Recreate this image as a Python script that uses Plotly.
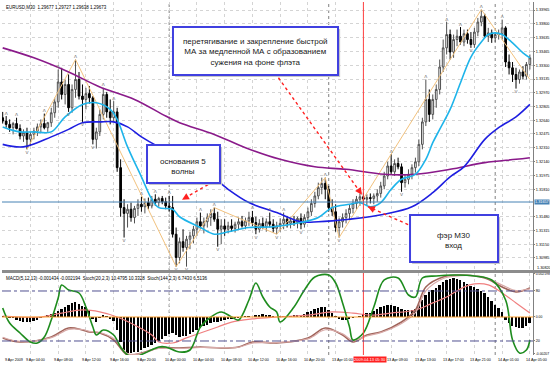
import plotly.graph_objects as go

# ---------------- data ----------------
bars = list(range(153))
open_ = [1.3267,1.3263,1.3259,1.3255,1.3260,1.3254,1.3245,1.3249,1.3241,1.3247,
 1.3251,1.3256,1.3260,1.3255,1.3261,1.3273,1.3286,1.3310,1.3295,1.3307,
 1.3279,1.3301,1.3313,1.3293,1.3289,1.3296,1.3291,1.3241,1.3250,1.3271,
 1.3295,1.3274,1.3267,1.3274,1.3207,1.3159,1.3152,1.3157,1.3147,1.3158,
 1.3163,1.3160,1.3165,1.3161,1.3169,1.3165,1.3170,1.3166,1.3161,1.3159,
 1.3127,1.3099,1.3118,1.3111,1.3121,1.3125,1.3133,1.3142,1.3137,1.3142,
 1.3147,1.3152,1.3145,1.3133,1.3137,1.3133,1.3137,1.3134,1.3139,1.3142,
 1.3137,1.3143,1.3147,1.3141,1.3133,1.3140,1.3136,1.3142,1.3139,1.3134,
 1.3137,1.3140,1.3145,1.3140,1.3143,1.3141,1.3146,1.3139,1.3147,1.3154,
 1.3164,1.3173,1.3183,1.3188,1.3181,1.3159,1.3154,1.3135,1.3142,1.3147,
 1.3152,1.3158,1.3164,1.3169,1.3172,1.3169,1.3171,1.3170,1.3173,1.3176,
 1.3185,1.3197,1.3209,1.3202,1.3212,1.3208,1.3189,1.3193,1.3199,1.3207,
 1.3214,1.3235,1.3262,1.3289,1.3271,1.3289,1.3301,1.3328,1.3351,1.3367,
 1.3346,1.3361,1.3365,1.3358,1.3368,1.3361,1.3355,1.3370,1.3382,1.3389,
 1.3365,1.3369,1.3363,1.3367,1.3368,1.3375,1.3334,1.3327,1.3319,1.3313,
 1.3322,1.3317,1.3331]
high = [1.3274,1.3269,1.3265,1.3262,1.3267,1.3259,1.3253,1.3255,1.3250,1.3255,
 1.3260,1.3265,1.3272,1.3262,1.3279,1.3291,1.3325,1.3327,1.3313,1.3319,
 1.3307,1.3337,1.3322,1.3307,1.3303,1.3305,1.3293,1.3255,1.3277,1.3303,
 1.3298,1.3289,1.3287,1.3279,1.3217,1.3169,1.3163,1.3165,1.3161,1.3169,
 1.3172,1.3170,1.3171,1.3173,1.3175,1.3172,1.3173,1.3171,1.3173,1.3173,
 1.3135,1.3123,1.3133,1.3125,1.3130,1.3137,1.3147,1.3153,1.3147,1.3152,
 1.3157,1.3159,1.3154,1.3145,1.3145,1.3142,1.3145,1.3142,1.3147,1.3149,
 1.3147,1.3154,1.3155,1.3148,1.3145,1.3147,1.3146,1.3153,1.3145,1.3142,
 1.3146,1.3153,1.3149,1.3147,1.3149,1.3148,1.3152,1.3151,1.3159,1.3169,
 1.3178,1.3189,1.3195,1.3195,1.3185,1.3169,1.3163,1.3147,1.3152,1.3157,
 1.3163,1.3169,1.3173,1.3176,1.3177,1.3175,1.3176,1.3176,1.3181,1.3190,
 1.3202,1.3214,1.3223,1.3217,1.3219,1.3212,1.3199,1.3205,1.3211,1.3219,
 1.3241,1.3267,1.3313,1.3301,1.3295,1.3307,1.3337,1.3361,1.3382,1.3373,
 1.3367,1.3373,1.3376,1.3373,1.3373,1.3370,1.3375,1.3387,1.3397,1.3392,
 1.3375,1.3373,1.3370,1.3373,1.3385,1.3377,1.3343,1.3334,1.3327,1.3325,
 1.3329,1.3334,1.3343]
low = [1.3260,1.3255,1.3250,1.3247,1.3253,1.3241,1.3238,1.3229,1.3233,1.3241,
 1.3245,1.3249,1.3253,1.3250,1.3256,1.3267,1.3279,1.3289,1.3283,1.3274,
 1.3273,1.3291,1.3289,1.3262,1.3277,1.3284,1.3235,1.3230,1.3245,1.3265,
 1.3267,1.3259,1.3262,1.3202,1.3148,1.3123,1.3135,1.3142,1.3140,1.3149,
 1.3154,1.3152,1.3157,1.3158,1.3161,1.3160,1.3163,1.3157,1.3154,1.3123,
 1.3088,1.3092,1.3106,1.3088,1.3109,1.3116,1.3125,1.3133,1.3128,1.3135,
 1.3137,1.3142,1.3112,1.3115,1.3125,1.3128,1.3130,1.3129,1.3133,1.3135,
 1.3133,1.3137,1.3137,1.3127,1.3129,1.3133,1.3130,1.3135,1.3129,1.3127,
 1.3130,1.3133,1.3135,1.3134,1.3137,1.3134,1.3133,1.3135,1.3142,1.3149,
 1.3159,1.3169,1.3175,1.3169,1.3154,1.3149,1.3130,1.3123,1.3135,1.3140,
 1.3145,1.3152,1.3157,1.3161,1.3164,1.3161,1.3164,1.3163,1.3166,1.3171,
 1.3181,1.3193,1.3199,1.3197,1.3205,1.3178,1.3183,1.3187,1.3193,1.3201,
 1.3209,1.3229,1.3257,1.3262,1.3265,1.3279,1.3295,1.3322,1.3343,1.3337,
 1.3339,1.3353,1.3355,1.3353,1.3356,1.3351,1.3351,1.3365,1.3377,1.3363,
 1.3358,1.3357,1.3358,1.3361,1.3361,1.3328,1.3319,1.3310,1.3302,1.3308,
 1.3313,1.3313,1.3325]
close = [1.3263,1.3259,1.3255,1.3260,1.3254,1.3245,1.3249,1.3241,1.3247,1.3251,
 1.3256,1.3260,1.3255,1.3261,1.3273,1.3286,1.3310,1.3295,1.3307,1.3279,
 1.3301,1.3313,1.3293,1.3289,1.3296,1.3291,1.3241,1.3250,1.3271,1.3295,
 1.3274,1.3267,1.3274,1.3207,1.3159,1.3152,1.3157,1.3147,1.3158,1.3163,
 1.3160,1.3165,1.3161,1.3169,1.3165,1.3170,1.3166,1.3161,1.3159,1.3127,
 1.3099,1.3118,1.3111,1.3121,1.3125,1.3133,1.3142,1.3137,1.3142,1.3147,
 1.3152,1.3145,1.3133,1.3137,1.3133,1.3137,1.3134,1.3139,1.3142,1.3137,
 1.3143,1.3147,1.3141,1.3133,1.3140,1.3136,1.3142,1.3139,1.3134,1.3137,
 1.3140,1.3145,1.3140,1.3143,1.3141,1.3146,1.3139,1.3147,1.3154,1.3164,
 1.3173,1.3183,1.3188,1.3181,1.3159,1.3154,1.3135,1.3142,1.3147,1.3152,
 1.3158,1.3164,1.3169,1.3172,1.3169,1.3171,1.3170,1.3173,1.3176,1.3185,
 1.3197,1.3209,1.3202,1.3212,1.3208,1.3189,1.3193,1.3199,1.3207,1.3214,
 1.3235,1.3262,1.3289,1.3271,1.3289,1.3301,1.3328,1.3351,1.3367,1.3346,
 1.3361,1.3365,1.3358,1.3368,1.3361,1.3355,1.3370,1.3382,1.3389,1.3365,
 1.3369,1.3363,1.3367,1.3368,1.3375,1.3334,1.3327,1.3319,1.3313,1.3322,
 1.3317,1.3331,1.3339]

time_ticks = list(range(0, 153, 8))
time_labels = ["9 Apr 2009", "9 Apr 04:00", "9 Apr 08:00", "9 Apr 12:00", "9 Apr 16:00",
               "9 Apr 20:00", "10 Apr 00:00", "10 Apr 04:00", "10 Apr 08:00", "10 Apr 12:00",
               "10 Apr 16:00", "10 Apr 20:00", "13 Apr 01:00", "13 Apr 05:00", "13 Apr 09:00",
               "13 Apr 13:00", "13 Apr 17:00", "13 Apr 21:00", "14 Apr 01:00", "14 Apr 05:00"]
price_ticks = [1.33965, 1.33800, 1.33635, 1.33465, 1.33300, 1.33135, 1.32970, 1.32805, 1.32640,
               1.32475, 1.32310, 1.32140, 1.31975, 1.31810, 1.31480, 1.31315, 1.31150, 1.30985]
price_tick_text = ["1.33965", "1.33800", "1.33635", "1.33465", "1.33300", "1.33135", "1.32970",
                   "1.32805", "1.32640", "1.32475", "1.32310", "1.32140", "1.31975", "1.31810",
                   "1.31480", "1.31315", "1.31150", "1.30985"]

fast_ma_idx = [0,5,9,14,18,23,27,31,33,36,40,43,45,49,51,57,61,65,71,78,86,91,95,100,103,106,109,
               112,115,119,122,124,126,129,132,135,138,140,142,144,147,150,152]
fast_ma = [1.3256,1.3250,1.3250,1.3250,1.3268,1.3283,1.3285,1.3277,1.3265,1.3232,1.3196,1.3169,
           1.3159,1.3157,1.3148,1.3135,1.3127,1.3130,1.3135,1.3136,1.3141,1.3147,1.3159,1.3163,
           1.3165,1.3160,1.3165,1.3181,1.3193,1.3199,1.3217,1.3237,1.3253,1.3277,1.3309,1.3340,
           1.3358,1.3367,1.3369,1.3367,1.3357,1.3345,1.3339]
mid_ma_idx = [0,6,14,19,23,28,32,36,40,45,50,57,65,71,79,86,91,95,100,110,118,124,129,133,139,143,148,152]
mid_ma = [1.3235,1.3232,1.3244,1.3253,1.3261,1.3262,1.3262,1.3256,1.3244,1.3232,1.3222,1.3208,
          1.3181,1.3165,1.3153,1.3142,1.3142,1.3143,1.3145,1.3151,1.3160,1.3177,1.3196,1.3208,
          1.3241,1.3255,1.3268,1.3283]
slow_ma_idx = [0,9,19,28,38,47,51,61,70,80,90,99,110,119,129,139,148,152]
slow_ma = [1.3351,1.3339,1.3322,1.3304,1.3289,1.3269,1.3261,1.3247,1.3231,1.3217,1.3208,1.3205,
           1.3199,1.3199,1.3205,1.3213,1.3217,1.3219]
zigzag_idx = [7, 21, 50, 61, 79, 93, 97, 138, 152]
zigzag = [1.3229, 1.3337, 1.3088, 1.3159, 1.3127, 1.3195, 1.3123, 1.3397, 1.3313]
fractal_up = [1,4,12,16,21,29,32,40,44,48,57,61,72,77,81,93,112,122,128,132,138,144]
fractal_dn = [7,19,23,26,35,50,53,62,73,79,86,97,115,135,148]

macd = [0.00005,0,-0.00005,-0.00005,-0.00015,-0.00020,-0.00026,-0.00026,-0.00026,-0.00020,
 -0.00015,-0.00005,0.00005,0.00010,0.00015,0.00020,0.00031,0.00041,0.00051,0.00061,
 0.00072,0.00077,0.00067,0.00056,0.00051,0.00036,-0.00010,-0.00026,-0.00005,0.00010,
 0.00005,-0.00010,-0.00020,-0.00067,-0.00128,-0.00169,-0.00184,-0.00184,-0.00179,-0.00179,
 -0.00169,-0.00159,-0.00153,-0.00143,-0.00133,-0.00123,-0.00113,-0.00097,-0.00087,-0.00082,
 -0.00092,-0.00102,-0.00097,-0.00097,-0.00087,-0.00077,-0.00067,-0.00056,-0.00046,-0.00041,
 -0.00031,-0.00026,-0.00026,-0.00020,-0.00015,-0.00010,-0.00010,-0.00005,-0.00005,0,
 0.00005,0.00005,0,0.00010,0.00010,0.00015,0.00010,0.00010,0.00005,0,
 0.00002,0.00005,0.00005,0.00005,0.00010,0.00010,0.00010,0.00015,0.00026,0.00031,
 0.00041,0.00046,0.00051,0.00051,0.00036,0.00020,0.00005,-0.00010,-0.00015,-0.00015,
 -0.00010,-0.00005,0,0.00005,0.00015,0.00020,0.00020,0.00031,0.00041,0.00051,
 0.00056,0.00061,0.00061,0.00056,0.00051,0.00041,0.00036,0.00036,0.00036,0.00041,
 0.00061,0.00087,0.00113,0.00128,0.00138,0.00148,0.00164,0.00179,0.00189,0.00194,
 0.00200,0.00194,0.00189,0.00179,0.00169,0.00159,0.00153,0.00143,0.00133,0.00123,
 0.00102,0.00082,0.00061,0.00046,0.00026,-0.00015,-0.00031,-0.00046,-0.00051,-0.00056,
 -0.00056,-0.00046,-0.00031]
signal_idx = [0,11,17,23,28,33,38,43,45,49,53,57,62,66,72,79,88,95,101,106,112,119,124,128,133,136,140,144,148,152]
signal = [0.00005,0,0.00020,0.00036,0.00026,0,-0.00041,-0.00092,-0.00128,-0.00133,-0.00107,
          -0.00082,-0.00051,-0.00026,-0.00010,0,0.00010,0.00026,0.00020,0.00010,0.00020,0.00036,
          0.00072,0.00102,0.00153,0.00169,0.00164,0.00123,0.00072,0.00020]
stoch_fast_idx = [0,2,5,8,10,12,14,16,17,19,22,24,26,27,29,32,34,36,38,41,45,47,51,54,57,60,63,66,
                  68,71,73,75,77,79,80,84,87,90,94,96,98,100,101,104,107,110,114,117,119,121,125,
                  130,136,141,145,147,149,151,152]
stoch_fast = [59.6,41.6,29.6,18.8,17.6,24.8,45.2,71.6,87.2,81.2,77.6,60.8,36.8,27.2,33.2,27.2,12.8,
              3.2,0.8,5.6,12.8,12.8,6.8,9.2,36.8,48.8,54.8,48.8,45.2,69.2,89.6,72.8,60.8,54.8,42.8,
              60.8,81.2,96.8,99.2,89.6,65.6,36.8,21.2,29.6,60.8,93.2,95.6,75.2,72.8,95.6,98.0,99.2,
              98.0,93.2,69.2,21.2,5.6,9.2,21.2]
stoch_slow_idx = [0,5,14,19,23,25,28,32,36,40,45,51,57,63,68,72,79,88,93,98,101,105,109,115,119,
                  122,127,132,139,144,148,152]
stoch_slow = [23.6,18.8,24.8,35.6,33.2,30.8,29.6,21.2,3.2,5.6,11.6,11.6,12.8,11.6,12.8,18.8,17.6,
              23.6,35.6,27.2,18.8,27.2,30.8,42.8,57.2,84.8,96.8,99.2,95.6,84.8,78.8,83.6]
stoch_slow_sig = [24.5,19.5,24.0,34.0,33.8,31.5,30.2,23.0,5.0,5.0,11.0,11.0,12.2,12.0,12.5,17.5,
                  18.2,22.5,33.5,28.5,20.5,26.0,30.0,41.0,54.0,80.0,95.0,98.5,96.5,87.0,80.5,82.5]

level_line = 1.31657
cursor_bar = 104
day_starts = [48, 94, 142]

FONT = "Arial, Liberation Sans, sans-serif"

# ---------------- figure ----------------
fig = go.Figure()

fig.add_trace(go.Candlestick(
    x=bars, open=open_, high=high, low=low, close=close,
    increasing=dict(line=dict(color="#505050", width=1), fillcolor="#FFFFFF"),
    decreasing=dict(line=dict(color="#000000", width=1), fillcolor="#000000"),
    whiskerwidth=0, xaxis="x", yaxis="y", hoverinfo="skip"))

fig.add_trace(go.Scatter(x=zigzag_idx, y=zigzag, mode="lines",
                         line=dict(color="#F2C27E", width=1), xaxis="x", yaxis="y"))
fig.add_trace(go.Scatter(x=slow_ma_idx, y=slow_ma, mode="lines",
                         line=dict(color="#8A1A8A", width=1.6, shape="spline"), xaxis="x", yaxis="y"))
fig.add_trace(go.Scatter(x=mid_ma_idx, y=mid_ma, mode="lines",
                         line=dict(color="#1E1EE0", width=1.6, shape="spline"), xaxis="x", yaxis="y"))
fig.add_trace(go.Scatter(x=fast_ma_idx, y=fast_ma, mode="lines",
                         line=dict(color="#1EB4EA", width=1.6, shape="spline"), xaxis="x", yaxis="y"))

fig.add_trace(go.Scatter(x=fractal_up, y=[high[i] for i in fractal_up], mode="text", text="ʌ",
                         textposition="top center", textfont=dict(size=6, color="#808080", family=FONT),
                         xaxis="x", yaxis="y"))
fig.add_trace(go.Scatter(x=fractal_dn, y=[low[i] for i in fractal_dn], mode="text", text="v",
                         textposition="bottom center", textfont=dict(size=6, color="#808080", family=FONT),
                         xaxis="x", yaxis="y"))

# indicator window
fig.add_trace(go.Bar(x=bars, y=macd, width=0.55, marker=dict(color="#000000", line=dict(width=0)),
                     xaxis="x2", yaxis="y2"))
fig.add_trace(go.Scatter(x=signal_idx, y=signal, mode="lines",
                         line=dict(color="#F08080", width=1.2, shape="spline"), xaxis="x2", yaxis="y2"))
fig.add_trace(go.Scatter(x=stoch_slow_idx, y=stoch_slow, mode="lines",
                         line=dict(color="#A0645A", width=1.6, shape="spline"), xaxis="x2", yaxis="y3"))
fig.add_trace(go.Scatter(x=stoch_slow_idx, y=stoch_slow_sig, mode="lines",
                         line=dict(color="#D8AAA8", width=1.2, shape="spline"), xaxis="x2", yaxis="y3"))
fig.add_trace(go.Scatter(x=stoch_fast_idx, y=stoch_fast, mode="lines",
                         line=dict(color="#1E8C1E", width=1.6, shape="spline"), xaxis="x2", yaxis="y3"))

shapes = []
for d in day_starts:
    shapes.append(dict(type="line", xref="x", yref="paper", x0=d, x1=d, y0=0, y1=1,
                       line=dict(color="#808080", width=1, dash="dot"), layer="below"))
shapes.append(dict(type="line", xref="x", yref="paper", x0=cursor_bar, x1=cursor_bar, y0=0, y1=1,
                   line=dict(color="#FF4040", width=1), layer="above"))
shapes.append(dict(type="line", xref="paper", yref="y", x0=0, x1=1, y0=level_line, y1=level_line,
                   line=dict(color="#4682B4", width=1), layer="above"))
for lv in (80, 20):
    shapes.append(dict(type="line", xref="paper", yref="y3", x0=0, x1=1, y0=lv, y1=lv,
                       line=dict(color="#505090", width=1, dash="dashdot"), layer="above"))
shapes.append(dict(type="line", xref="paper", yref="y2", x0=0, x1=1, y0=0, y1=0,
                   line=dict(color="#FFA030", width=1), layer="above"))
shapes.append(dict(type="line", xref="paper", yref="paper", x0=0, x1=1.04, y0=0.2365, y1=0.2365,
                   line=dict(color="#8C8C8C", width=3), layer="above"))

# red dotted arrows (tail -> head in bar/price coords)
arrows = [((78.5, 1.33209), (103.6, 1.31745), (-4.6, -6.5)),
          ((59.2, 1.31865), (51.7, 1.31685), (6.9, -4.0)),
          ((116.9, 1.31385), (105.3, 1.31601), (7.3, 3.3))]
annotations = []
for (tx, ty), (hx, hy), (ax, ay) in arrows:
    shapes.append(dict(type="line", xref="x", yref="y", x0=tx, y0=ty, x1=hx, y1=hy,
                       line=dict(color="#FF2020", width=1.4, dash="dot"), layer="above"))
    annotations.append(dict(x=hx, y=hy, xref="x", yref="y", ax=ax, ay=ay, text="", showarrow=True,
                            arrowhead=2, arrowsize=1, arrowwidth=1.4, arrowcolor="#FF2020"))

# text boxes (paper coords)
boxes = [((0.322, 0.7932, 0.6328, 0.9292), (0.4774, 0.8584),
          "перетягивание и закрепление быстрой<br>МА за медленной МА с образованием<br>сужения на фоне флэта"),
         ((0.2731, 0.4873, 0.4105, 0.5949), (0.3418, 0.5326), "основания 5<br>волны"),
         ((0.7684, 0.2635, 0.9341, 0.3966), (0.8512, 0.3244), "фэр M30<br>вход")]
for (x0, y0, x1, y1), (cx, cy), txt in boxes:
    shapes.append(dict(type="rect", xref="paper", yref="paper", x0=x0 + 0.004, x1=x1 + 0.004,
                       y0=y0 - 0.006, y1=y1 - 0.006, fillcolor="#C8C8C8", line=dict(width=0),
                       layer="above"))
    shapes.append(dict(type="rect", xref="paper", yref="paper", x0=x0, x1=x1, y0=y0, y1=y1,
                       fillcolor="#FFFFFF", line=dict(color="#4040E0", width=2), layer="above"))
    annotations.append(dict(x=cx, y=cy, xref="paper", yref="paper", text=txt, showarrow=False,
                            xanchor="center", yanchor="middle",
                            font=dict(family=FONT, size=8, color="#202020"), align="center"))

# time labels
for t, lab in zip(time_ticks, time_labels):
    if t == cursor_bar:
        continue
    annotations.append(dict(x=t, y=0, xref="x", yref="paper", text=lab, showarrow=False,
                            xanchor="left", yanchor="top", xshift=(0 if t == 0 else -6), yshift=-1,
                            font=dict(family=FONT, size=3.7, color="#000000")))
annotations.append(dict(x=cursor_bar, y=0, xref="x", yref="paper", text="2009.04.13 05:30",
                        showarrow=False, xanchor="center", yanchor="top", xshift=7, yshift=-1,
                        bgcolor="#FF2020", borderpad=0,
                        font=dict(family=FONT, size=4.0, color="#FFFFFF")))
annotations.append(dict(x=1, y=level_line, xref="paper", yref="y", text="1.31657", showarrow=False,
                        xanchor="left", yanchor="middle", xshift=1, bgcolor="#4682B4", borderpad=0,
                        font=dict(family=FONT, size=3.8, color="#FFFFFF")))
annotations.append(dict(x=1, y=0.2465, xref="paper", yref="paper", text="1.30820", showarrow=False,
                        xanchor="left", yanchor="middle", xshift=2,
                        font=dict(family=FONT, size=3.8, color="#000000")))
annotations.append(dict(x=0.004, y=1, xref="paper", yref="paper",
                        text="EURUSD,M30  1.29677 1.29727 1.29638 1.29673", showarrow=False,
                        xanchor="left", yanchor="top", yshift=-1,
                        font=dict(family=FONT, size=4.5, color="#000000")))
annotations.append(dict(x=0.004, y=0.2323, xref="paper", yref="paper",
                        text="MACD(5,12,13) -0.001434 -0.002194  Stoch(20,2,3) 10.4795 10.3328  Stoch(144,2,3) 6.7430 6.5136",
                        showarrow=False, xanchor="left", yanchor="top", yshift=-1,
                        font=dict(family=FONT, size=4.5, color="#000000")))

grid = dict(showgrid=True, gridcolor="#D4D4D4", griddash="dot", gridwidth=1)
xcommon = dict(range=[-0.2, 152.9], tickvals=time_ticks, showticklabels=False, zeroline=False,
               ticks="", showline=False, automargin=False, **grid)
ycommon = dict(side="right", showline=True, linecolor="#808080", linewidth=1, ticks="outside",
               ticklen=1, tickcolor="#808080", zeroline=False, automargin=False)

fig.update_layout(
    width=550, height=366,
    margin=dict(l=2, r=17, t=2, b=11, autoexpand=False),
    paper_bgcolor="#FFFFFF", plot_bgcolor="#FFFFFF",
    showlegend=False, bargap=0,
    xaxis=dict(domain=[0, 1], anchor="y", rangeslider=dict(visible=False), **xcommon),
    xaxis2=dict(domain=[0, 1], anchor="y2", matches="x", **xcommon),
    yaxis=dict(domain=[0.2408, 1], range=[1.308398, 1.340612], tickvals=price_ticks,
               ticktext=price_tick_text, tickfont=dict(family=FONT, size=3.8, color="#000000"),
               **grid, **ycommon),
    yaxis2=dict(domain=[0, 0.2323], range=[-0.001944, 0.002251], tickvals=[0.0022, 0, -0.00189],
                ticktext=["0.002198", "0.00", "-0.00207"], showgrid=False,
                tickfont=dict(family=FONT, size=3.4, color="#000000"), **ycommon),
    yaxis3=dict(overlaying="y2", range=[3.2, 101.6], tickvals=[80, 20], ticktext=["80", "20"],
                showgrid=False, tickfont=dict(family=FONT, size=3.8, color="#000000"), **ycommon),
    shapes=shapes, annotations=annotations,
)

fig.write_html("out.html")
